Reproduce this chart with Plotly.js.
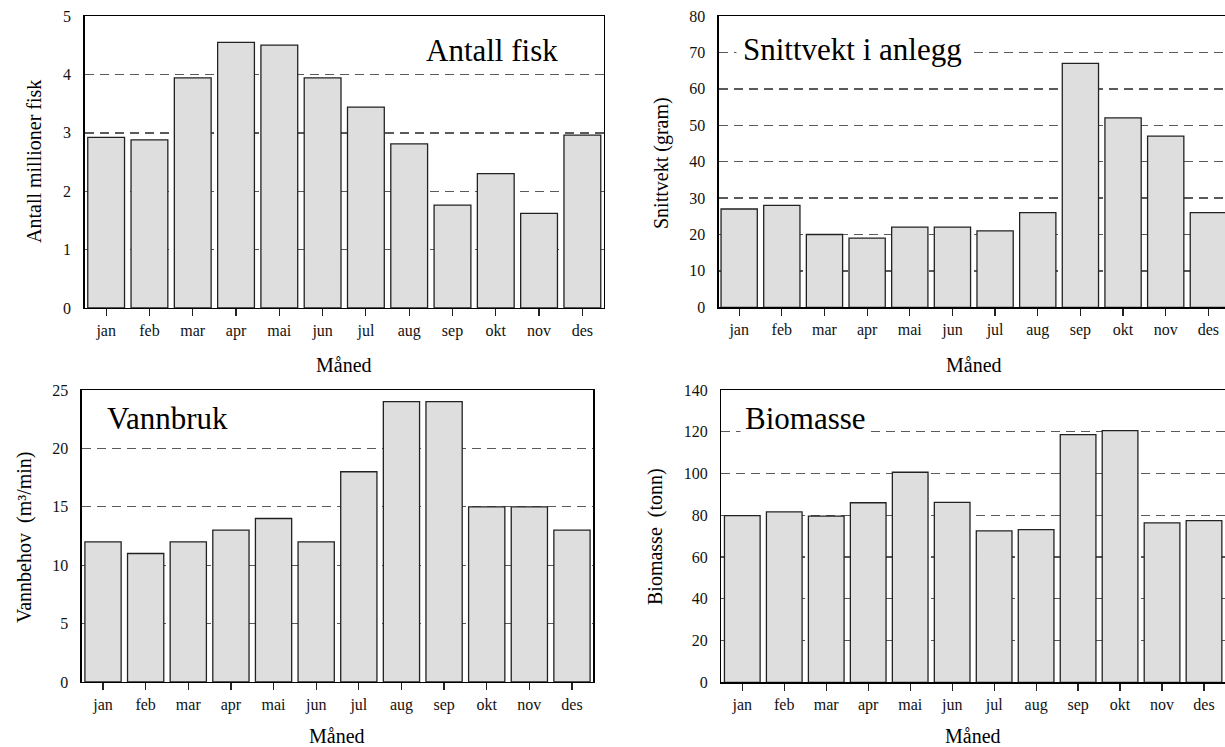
<!DOCTYPE html>
<html><head><meta charset="utf-8">
<script src="https://cdn.plot.ly/plotly-3.0.1.min.js"></script>
<style>html,body{margin:0;padding:0;background:#fff}</style>
</head><body><div id="chart" style="width:1225px;height:747px"></div>
<script>
const months = ['jan','feb','mar','apr','mai','jun','jul','aug','sep','okt','nov','des'];
const antallFisk = [2.92,2.88,3.94,4.55,4.50,3.94,3.44,2.81,1.76,2.30,1.62,2.96];
const snittvekt = [27,28,20,19,22,22,21,26,67,52,47,26];
const vannbehov = [12,11,12,13,14,12,18,24,24,15,15,13];
const biomasse = [79.8,81.6,79.6,86.0,100.6,86.2,72.5,73.1,118.6,120.5,76.4,77.4];

const panelTitles = ['Antall fisk','Snittvekt i anlegg','Vannbruk','Biomasse'];
const yTitles = ['Antall millioner fisk','Snittvekt (gram)','Vannbehov\u00a0 (m\u00b3/min)','Biomasse\u00a0 (tonn)'];
const xTitle = 'Måned';

const W = 1225, H = 747;
const FONT = '"Liberation Serif", "Times New Roman", serif';
const px = v => v / W;
const py = v => 1 - v / H;

function xAx(x0, x1, anchor, range) {
  return {
    domain: [px(x0), Math.min(1, px(x1))], anchor: anchor, type: 'category',
    range: range, showgrid: false, zeroline: false,
    showline: true, linecolor: '#000', linewidth: 1.3, mirror: true,
    ticks: 'outside', ticklen: 7, tickwidth: 1.2, tickcolor: '#222',
    tickfont: {family: FONT, size: 16, color: '#111'}, fixedrange: true
  };
}
function yAx(y0, y1, anchor, range, dtick, mirror) {
  return {
    domain: [py(y1), py(y0)], anchor: anchor, range: range, dtick: dtick,
    showgrid: true, gridcolor: '#5a5a5a', gridwidth: 1.4, griddash: '9px,6px',
    zeroline: false, showline: true, linecolor: '#000', linewidth: 1.3, mirror: mirror,
    ticks: 'outside', ticklen: 9, tickcolor: 'rgba(0,0,0,0)',
    tickfont: {family: FONT, size: 16, color: '#111'}, fixedrange: true
  };
}

const barStyle = {color: '#dedede', line: {color: '#222', width: 1.3}};
const data = [
  {type: 'bar', x: months, y: antallFisk, xaxis: 'x', yaxis: 'y', marker: barStyle},
  {type: 'bar', x: months, y: snittvekt, xaxis: 'x2', yaxis: 'y2', marker: barStyle},
  {type: 'bar', x: months, y: vannbehov, xaxis: 'x3', yaxis: 'y3', marker: barStyle},
  {type: 'bar', x: months, y: biomasse, xaxis: 'x4', yaxis: 'y4', marker: barStyle}
];

function ann(text, x, y, size, opts) {
  return Object.assign({
    text: text, xref: 'paper', yref: 'paper', x: px(x), y: py(y),
    showarrow: false, font: {family: FONT, size: size, color: '#000'},
    xanchor: 'center', yanchor: 'middle'
  }, opts || {});
}

const annotations = [
  ann(panelTitles[0], 421, 51, 31, {xanchor: 'left', bgcolor: '#fff', borderpad: 4}),
  ann(panelTitles[1], 736, 50, 31, {xanchor: 'left', bgcolor: '#fff', borderpad: 6}),
  ann(panelTitles[2], 102, 418, 31, {xanchor: 'left', bgcolor: '#fff', borderpad: 4}),
  ann(panelTitles[3], 740, 418, 31, {xanchor: 'left', bgcolor: '#fff', borderpad: 4}),
  ann(yTitles[0], 34, 162, 20, {textangle: -90}),
  ann(yTitles[1], 661, 163, 20, {textangle: -90}),
  ann(yTitles[2], 24, 537, 20, {textangle: -90}),
  ann(yTitles[3], 655, 537, 20, {textangle: -90}),
  ann(xTitle, 344, 365, 20),
  ann(xTitle, 974, 365, 20),
  ann(xTitle, 337, 736, 20),
  ann(xTitle, 973, 736, 20)
];

const layout = {
  width: W, height: H, margin: {l: 0, r: 0, t: 0, b: 0},
  paper_bgcolor: '#fff', plot_bgcolor: '#fff', showlegend: false, bargap: 0.15,
  font: {family: FONT},
  xaxis: xAx(84.5, 604, 'y', [-0.5, 11.5]),
  yaxis: yAx(16, 308, 'x', [0, 5], 1, true),
  xaxis2: xAx(718.7, 1225, 'y2', [-0.48, 11.39]),
  yaxis2: yAx(16, 307.3, 'x2', [0, 80], 10, false),
  xaxis3: xAx(81.7, 593.3, 'y3', [-0.5, 11.5]),
  yaxis3: yAx(390, 682, 'x3', [0, 25], 5, true),
  xaxis4: xAx(721.3, 1225, 'y4', [-0.5, 11.5]),
  yaxis4: yAx(390, 682.3, 'x4', [0, 140], 20, false),
  annotations: annotations
};

Plotly.newPlot('chart', data, layout, {staticPlot: true, displayModeBar: false});
</script></body></html>
